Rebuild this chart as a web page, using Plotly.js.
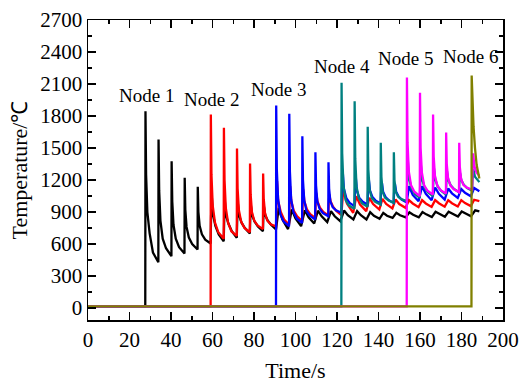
<!DOCTYPE html>
<html>
<head>
<meta charset="utf-8">
<script src="https://cdn.plot.ly/plotly-3.0.1.min.js"></script>
<style>html,body{margin:0;padding:0;background:#fff;}#chart{width:520px;height:383px;}</style>
</head>
<body>
<div id="chart"></div>
<script>
// ---- data ----
const nodeNames = ["Node 1", "Node 2", "Node 3", "Node 4", "Node 5", "Node 6"];

const node1Time = [0, 27.6,
 27.7, 28.0, 28.6, 29.7, 31.3, 33.9,
 34.0, 34.3, 34.9, 36.0, 37.6, 40.2,
 40.3, 40.6, 41.2, 42.3, 43.9, 46.5,
 46.6, 46.9, 47.5, 48.6, 50.2, 52.8,
 52.9, 53.2, 53.8, 54.9, 56.5, 59.1,
 59.3, 59.6, 60.2, 61.4, 63.0, 65.4,
 65.6, 65.9, 66.5, 67.7, 69.3, 71.7,
 71.9, 72.2, 72.8, 74.0, 75.6, 78.0,
 78.2, 78.5, 79.1, 80.3, 81.9, 84.3,
 84.5, 84.8, 85.4, 86.6, 88.2, 90.6,
 91.9, 93.7, 96.4,
 98.2, 100.0, 102.7,
 104.5, 106.3, 109.0,
 110.8, 112.6, 115.3,
 117.1, 118.9, 121.6,
 123.4, 125.2, 127.9,
 129.7, 131.5, 134.2,
 136.0, 137.8, 140.5,
 142.3, 144.1, 146.8,
 148.6, 150.4, 153.1,
 154.9, 156.7, 159.4,
 161.2, 163.0, 165.7,
 167.5, 169.3, 172.0,
 173.8, 175.6, 178.3,
 180.1, 181.9, 184.6,
 186.6, 188.6];
const node1Temp = [15, 15,
 1845, 1250, 900, 700, 520, 429,
 1580, 1100, 820, 650, 560, 486,
 1376, 1000, 780, 650, 570, 511,
 1220, 920, 760, 660, 600, 548,
 1136, 900, 770, 690, 640, 605,
 850, 1064, 880, 770, 690, 626,
 800, 1017, 870, 790, 720, 658,
 820, 986, 870, 800, 750, 698,
 840, 961, 870, 810, 765, 720,
 850, 949, 870, 820, 780, 736,
 939, 830, 740,
 923, 840, 767,
 917, 850, 792,
 912, 860, 805,
 908, 860, 814,
 914, 870, 830,
 908, 870, 830,
 898, 865, 836,
 892, 865, 845,
 892, 870, 850,
 898, 875, 850,
 900, 878, 852,
 902, 880, 855,
 903, 882, 858,
 905, 884, 860,
 915, 905];

const node2Time = [0, 59.1,
 59.2, 59.5, 60.1, 61.2, 62.8, 65.4,
 65.5, 65.8, 66.4, 67.5, 69.1, 71.7,
 71.8, 72.1, 72.7, 73.8, 75.4, 78.0,
 78.1, 78.4, 79.0, 80.1, 81.7, 84.3,
 84.4, 84.7, 85.3, 86.4, 88.0, 90.6,
 90.8, 91.1, 91.7, 92.9, 94.5, 96.9,
 97.1, 97.4, 98.0, 99.2, 100.8, 103.2,
 103.4, 103.7, 104.3, 105.5, 107.1, 109.5,
 109.7, 110.0, 110.6, 111.8, 113.4, 115.8,
 116.0, 116.3, 116.9, 118.1, 119.7, 122.1,
 123.0, 124.8, 127.8,
 129.3, 131.1, 134.1,
 135.6, 137.4, 140.4,
 141.9, 143.7, 146.7,
 148.2, 150.0, 153.0,
 154.7, 156.5, 159.3,
 161.0, 162.8, 165.6,
 167.3, 169.1, 171.9,
 173.6, 175.4, 178.2,
 179.9, 181.7, 184.5,
 186.1, 188.6];
const node2Temp = [15, 15,
 1814, 1250, 960, 800, 710, 650,
 1689, 1200, 940, 800, 720, 675,
 1495, 1120, 920, 810, 750, 710,
 1355, 1060, 900, 820, 775, 740,
 1261, 1020, 890, 820, 785, 765,
 950, 1190, 1000, 900, 830, 780,
 950, 1142, 1000, 910, 860, 814,
 960, 1111, 1000, 925, 880, 845,
 970, 1080, 1000, 940, 900, 867,
 980, 1064, 1000, 950, 910, 870,
 1111, 980, 892,
 1048, 970, 908,
 1033, 975, 923,
 1023, 975, 933,
 1017, 975, 939,
 1011, 980, 945,
 1011, 980, 948,
 1011, 982, 950,
 1011, 982, 952,
 1011, 984, 955,
 1015, 1002];

const node3Time = [0, 90.6,
 90.7, 91.0, 91.6, 92.7, 94.3, 96.9,
 97.0, 97.3, 97.9, 99.0, 100.6, 103.2,
 103.3, 103.6, 104.2, 105.3, 106.9, 109.5,
 109.6, 109.9, 110.5, 111.6, 113.2, 115.8,
 115.9, 116.2, 116.8, 117.9, 119.5, 122.1,
 122.3, 122.7, 123.3, 124.5, 126.1, 128.4,
 128.6, 129.0, 129.6, 130.8, 132.4, 134.7,
 134.9, 135.3, 135.9, 137.1, 138.7, 141.0,
 141.2, 141.6, 142.2, 143.4, 145.0, 147.3,
 147.5, 147.9, 148.5, 149.7, 151.3, 153.6,
 154.7, 156.5, 159.3,
 161.0, 162.8, 165.6,
 167.3, 169.1, 171.9,
 173.6, 175.4, 178.2,
 179.9, 181.7, 184.5,
 186.1, 188.6];
const node3Temp = [15, 15,
 1898, 1300, 1020, 880, 810, 767,
 1820, 1280, 1020, 900, 840, 798,
 1611, 1200, 1010, 910, 865, 830,
 1461, 1150, 1000, 930, 890, 861,
 1367, 1120, 1000, 945, 915, 892,
 1050, 1298, 1120, 1030, 985, 955,
 1060, 1236, 1100, 1030, 995, 970,
 1070, 1211, 1100, 1040, 1005, 980,
 1075, 1180, 1090, 1040, 1010, 985,
 1080, 1165, 1090, 1045, 1015, 990,
 1142, 1060, 1002,
 1142, 1070, 1011,
 1130, 1070, 1017,
 1120, 1075, 1033,
 1115, 1080, 1048,
 1125, 1095];

const node4Time = [0, 122.1,
 122.2, 122.5, 123.1, 124.2, 125.8, 128.4,
 128.5, 128.8, 129.4, 130.5, 132.1, 134.7,
 134.8, 135.1, 135.7, 136.8, 138.4, 141.0,
 141.1, 141.4, 142.0, 143.1, 144.7, 147.3,
 147.4, 147.7, 148.3, 149.4, 151.0, 153.6,
 153.8, 154.1, 154.7, 155.9, 157.5, 159.9,
 160.1, 160.4, 161.0, 162.2, 163.8, 166.2,
 166.4, 166.7, 167.3, 168.5, 170.1, 172.5,
 172.7, 173.0, 173.6, 174.8, 176.4, 178.8,
 179.0, 179.3, 179.9, 181.1, 182.7, 185.1,
 185.3, 185.7, 186.5, 188.6];
const node4Temp = [15, 15,
 2111, 1450, 1150, 1010, 960, 930,
 1939, 1400, 1140, 1030, 980, 950,
 1700, 1300, 1110, 1030, 995, 970,
 1549, 1230, 1090, 1035, 1010, 986,
 1461, 1200, 1090, 1045, 1020, 1002,
 1150, 1392, 1220, 1120, 1070, 1033,
 1160, 1345, 1210, 1130, 1085, 1048,
 1170, 1314, 1210, 1140, 1100, 1064,
 1180, 1283, 1200, 1150, 1115, 1086,
 1185, 1267, 1200, 1155, 1125, 1100,
 1200, 1300, 1230, 1180];

const node5Time = [0, 153.6,
 153.7, 154.0, 154.6, 155.7, 157.3, 159.9,
 160.0, 160.3, 160.9, 162.0, 163.6, 166.2,
 166.3, 166.6, 167.2, 168.3, 169.9, 172.5,
 172.6, 172.9, 173.5, 174.6, 176.2, 178.8,
 178.9, 179.2, 179.8, 180.9, 182.5, 185.1,
 185.3, 185.6, 186.2, 187.2, 188.6];
const node5Temp = [15, 15,
 2160, 1550, 1280, 1150, 1090, 1048,
 2017, 1500, 1270, 1150, 1100, 1064,
 1814, 1420, 1240, 1150, 1105, 1073,
 1645, 1350, 1220, 1150, 1115, 1086,
 1549, 1320, 1210, 1155, 1130, 1111,
 1250, 1450, 1330, 1270, 1240];

const node6Time = [0, 184.8, 184.9, 185.3, 185.8, 186.5, 187.3, 188.6];
const node6Temp = [15, 15, 2180, 1900, 1700, 1500, 1340, 1215];

// ---- styling ----
const colors = ["#000000", "#ff0000", "#0000ff", "#008080", "#ff00ff", "#808000"];
const times = [node1Time, node2Time, node3Time, node4Time, node5Time, node6Time];
const temps = [node1Temp, node2Temp, node3Temp, node4Temp, node5Temp, node6Temp];
const labelPos = [[28.1, 1990], [59.3, 1955], [91.9, 2050], [122.3, 2265], [152.9, 2340], [184.1, 2358]];

const traces = times.map((t, i) => ({
  x: t, y: temps[i], type: "scatter", mode: "lines", name: nodeNames[i],
  line: {color: colors[i], width: 2.3}, hoverinfo: "skip"
}));

const fontFam = "Liberation Serif, Times New Roman, serif";
const axisCommon = {
  showline: true, linecolor: "#000", linewidth: 1.5, mirror: "allticks",
  ticks: "inside", ticklen: 8, tickwidth: 1.5, tickcolor: "#000",
  showgrid: false, zeroline: false,
  tickfont: {family: fontFam, size: 21, color: "#000"}
};

const layout = {
  width: 520, height: 383,
  margin: {l: 88, r: 17, t: 20, b: 63},
  paper_bgcolor: "#fff", plot_bgcolor: "#fff",
  showlegend: false,
  font: {family: fontFam, color: "#000"},
  xaxis: Object.assign({}, axisCommon, {
    range: [0, 200], tickmode: "linear", tick0: 0, dtick: 20,
    minor: {dtick: 10, ticks: "inside", ticklen: 4, tickwidth: 1.5, tickcolor: "#000"},
    title: {text: "Time/s", font: {family: fontFam, size: 22, color: "#000"}, standoff: 14}
  }),
  yaxis: Object.assign({}, axisCommon, {
    range: [-112.5, 2700], tickmode: "linear", tick0: 0, dtick: 300,
    minor: {dtick: 150, ticks: "inside", ticklen: 4, tickwidth: 1.5, tickcolor: "#000"},
    title: {text: "Temperature/℃", font: {family: fontFam, size: 22, color: "#000"}, standoff: 6}
  }),
  annotations: nodeNames.map((n, i) => ({
    x: labelPos[i][0], y: labelPos[i][1], xref: "x", yref: "y",
    text: n, showarrow: false, xanchor: "center", yanchor: "middle",
    font: {family: fontFam, size: 19, color: "#000"}
  }))
};

Plotly.newPlot("chart", traces, layout, {displayModeBar: false, staticPlot: true});
</script>
</body>
</html>
